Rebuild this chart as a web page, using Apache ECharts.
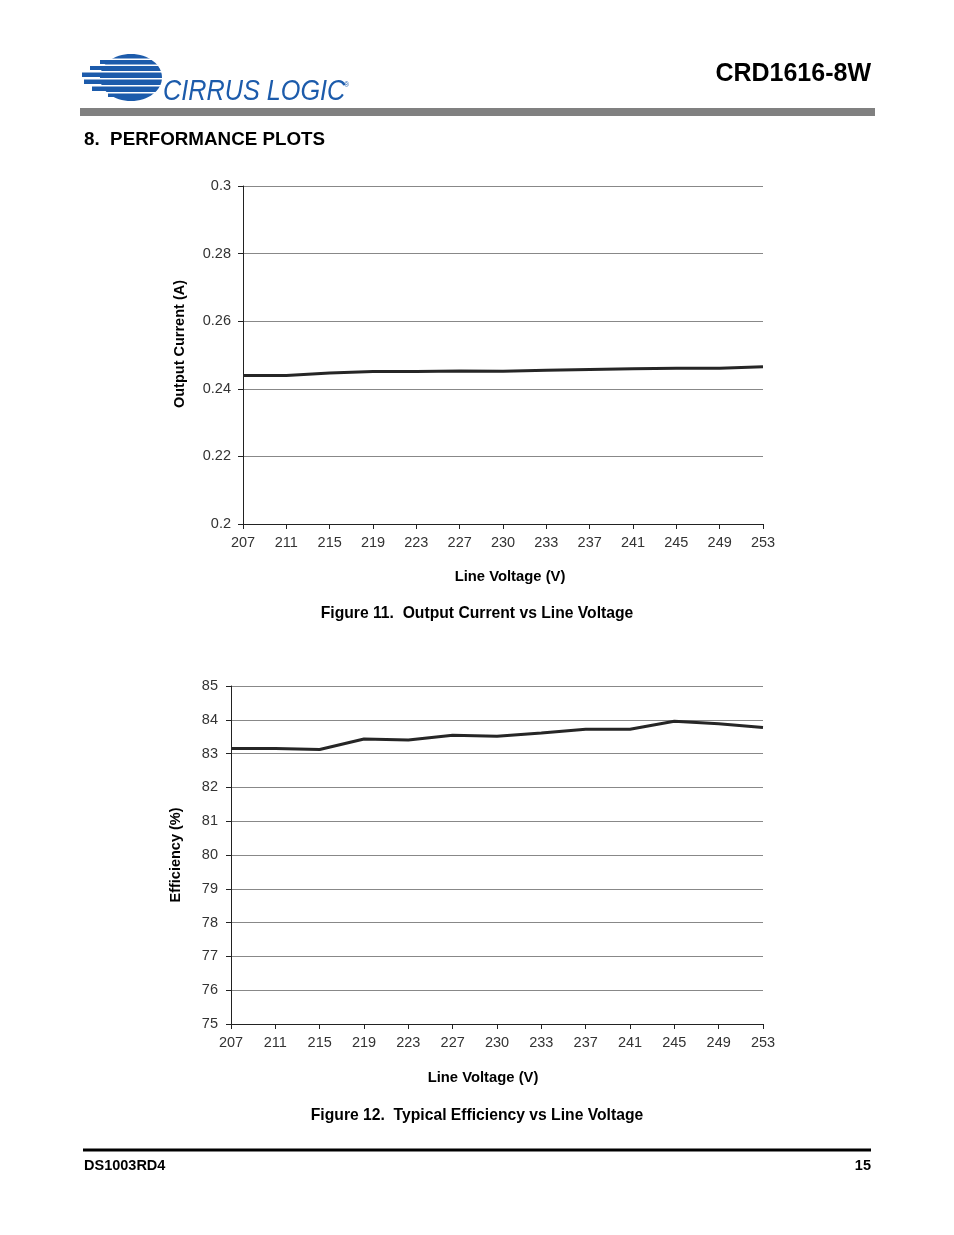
<!DOCTYPE html>
<html>
<head>
<meta charset="utf-8">
<script src="https://cdn.jsdelivr.net/npm/echarts@6/dist/echarts.min.js"></script>
<style>
html,body{margin:0;padding:0;background:#fff;}
#c{width:954px;height:1235px;}
</style>
</head>
<body>
<div id="c"></div>
<script>
// Data
var voltageLabels = ['207','211','215','219','223','227','230','233','237','241','245','249','253'];
var outputCurrent = [0.2439,0.2439,0.2447,0.2451,0.2451,0.2453,0.2452,0.2455,0.2457,0.2459,0.2461,0.2461,0.2465];
var efficiency = [83.15,83.15,83.12,83.43,83.40,83.54,83.51,83.61,83.72,83.72,83.96,83.88,83.77];
var currentTicks = {min:0.2, max:0.3, interval:0.02};
var effTicks = {min:75, max:85, interval:1};

var FONT = 'Liberation Sans, Arial, sans-serif';
var BLUE = '#1c5bab';

function xAxisCfg(gi){
  return {
    type:'category', gridIndex:gi, data:voltageLabels, boundaryGap:false,
    axisLine:{lineStyle:{color:'#222',width:1}},
    axisTick:{show:true,inside:false,length:5,lineStyle:{color:'#222'}},
    axisLabel:{color:'#333',fontFamily:FONT,fontSize:14.5,margin:11},
    splitLine:{show:false}
  };
}
function yAxisCfg(gi,t,m){
  return {
    type:'value', gridIndex:gi, min:t.min, max:t.max, interval:t.interval,
    axisLine:{show:true,lineStyle:{color:'#222',width:1}},
    axisTick:{show:true,inside:false,length:5,lineStyle:{color:'#222'}},
    axisLabel:{color:'#333',fontFamily:FONT,fontSize:14.5,margin:m},
    splitLine:{show:true,lineStyle:{color:'#888',width:1}}
  };
}

// Logo graphics
var logo = [];
logo.push({type:'ellipse',shape:{cx:131,cy:77.5,rx:31,ry:23.5},style:{fill:BLUE},z:10});
var stripeDefs = [[59,100,5],[65,90,5],[72,82,5],[79,84,5],[86,92,5],[93,108,4]];
stripeDefs.forEach(function(s){
  logo.push({type:'rect',shape:{x:s[1],y:s[0],width:131-s[1],height:s[2]},style:{fill:BLUE},z:10});
});
[58.5,64.5,71,78,85,92].forEach(function(y){
  logo.push({type:'rect',shape:{x:80,y:y,width:84,height:1.4},style:{fill:'#fff'},z:11});
});
logo.push({type:'text',left:163,top:77,style:{text:'CIRRUS LOGIC',fill:BLUE,font:'italic 29px '+FONT},scaleX:0.87,z:12});
logo.push({type:'text',left:344,top:82,style:{text:'®',fill:BLUE,font:'7px '+FONT},z:12});

var graphics = logo.concat([
  {type:'text',x:871,y:74,style:{text:'CRD1616-8W',fill:'#000',font:'bold 25px '+FONT,textAlign:'right',textVerticalAlign:'middle'}},
  {type:'rect',shape:{x:80,y:108,width:795,height:8},style:{fill:'#808080'}},
  {type:'text',x:84,y:140,style:{text:'8.  PERFORMANCE PLOTS',fill:'#000',font:'bold 18.8px '+FONT,textVerticalAlign:'middle'}},
  {type:'text',x:180,y:344,rotation:Math.PI/2,style:{text:'Output Current (A)',fill:'#000',font:'bold 14.5px '+FONT,textAlign:'center',textVerticalAlign:'middle'}},
  {type:'text',x:510,y:577,style:{text:'Line Voltage (V)',fill:'#000',font:'bold 14.8px '+FONT,textAlign:'center',textVerticalAlign:'middle'}},
  {type:'text',x:477,y:614,style:{text:'Figure 11.  Output Current vs Line Voltage',fill:'#000',font:'bold 15.7px '+FONT,textAlign:'center',textVerticalAlign:'middle'}},
  {type:'text',x:176,y:855,rotation:Math.PI/2,style:{text:'Efficiency (%)',fill:'#000',font:'bold 14.5px '+FONT,textAlign:'center',textVerticalAlign:'middle'}},
  {type:'text',x:483,y:1078,style:{text:'Line Voltage (V)',fill:'#000',font:'bold 14.8px '+FONT,textAlign:'center',textVerticalAlign:'middle'}},
  {type:'text',x:477,y:1116,style:{text:'Figure 12.  Typical Efficiency vs Line Voltage',fill:'#000',font:'bold 15.7px '+FONT,textAlign:'center',textVerticalAlign:'middle'}},
  {type:'rect',shape:{x:83,y:1148.5,width:788,height:3},style:{fill:'#000'}},
  {type:'text',x:84,y:1166,style:{text:'DS1003RD4',fill:'#000',font:'bold 14.5px '+FONT,textVerticalAlign:'middle'}},
  {type:'text',x:871,y:1166,style:{text:'15',fill:'#000',font:'bold 14.5px '+FONT,textAlign:'right',textVerticalAlign:'middle'}}
]);

var chart = echarts.init(document.getElementById('c'),null,{renderer:'canvas'});
chart.setOption({
  backgroundColor:'#fff',
  animation:false,
  grid:[
    {left:243,top:186,width:520,height:338},
    {left:231,top:686,width:532,height:338}
  ],
  xAxis:[xAxisCfg(0),xAxisCfg(1)],
  yAxis:[yAxisCfg(0,currentTicks,12),yAxisCfg(1,effTicks,13)],
  series:[
    {type:'line',xAxisIndex:0,yAxisIndex:0,data:outputCurrent,showSymbol:false,lineStyle:{color:'#262626',width:3},z:5},
    {type:'line',xAxisIndex:1,yAxisIndex:1,data:efficiency,showSymbol:false,lineStyle:{color:'#262626',width:3},z:5}
  ],
  graphic:graphics
});
</script>
</body>
</html>
